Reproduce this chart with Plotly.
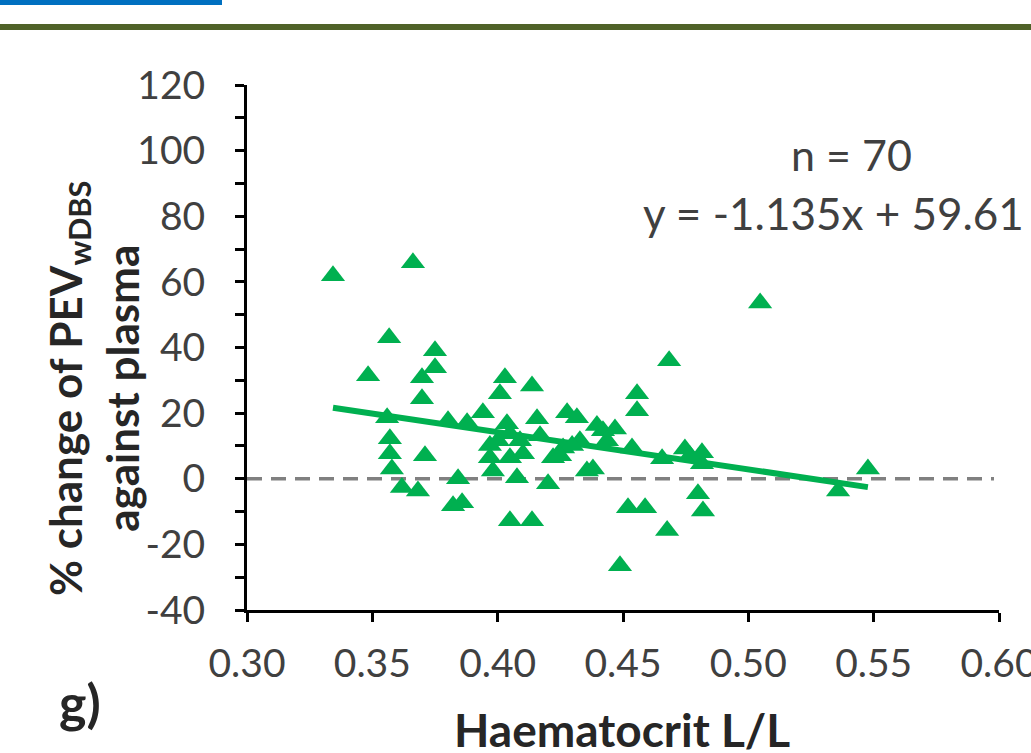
import plotly.graph_objects as go

# Haematocrit (L/L)
hct = [0.3343, 0.3662, 0.3567, 0.3483, 0.3750, 0.3750, 0.3698, 0.3698, 0.4029, 0.4009,
       0.4137, 0.3941, 0.3559, 0.3802, 0.3878, 0.4037, 0.4157, 0.4277, 0.4316, 0.4396,
       0.3570, 0.3570, 0.3578, 0.3710, 0.3618, 0.3682, 0.3842, 0.3822, 0.3858, 0.4049,
       0.4137, 0.3969, 0.3969, 0.3981, 0.4049, 0.4049, 0.4077, 0.4101, 0.4201, 0.4221,
       0.4261, 0.4356, 0.4328, 0.4380, 0.4420, 0.4468, 0.4536, 0.4656, 0.4747, 0.4815,
       0.4815, 0.4520, 0.4588, 0.4799, 0.4819, 0.4676, 0.4488, 0.5358, 0.5477, 0.5047,
       0.4684, 0.4556, 0.4556, 0.4169, 0.4001, 0.4436, 0.4297, 0.4089, 0.4767, 0.4249]
# % change of PEV_wDBS against plasma
pct_change = [61.9, 65.8, 43.0, 31.4, 39.0, 33.8, 30.8, 24.4, 30.8, 25.9,
              28.3, 20.1, 18.6, 17.7, 17.1, 16.8, 18.3, 20.1, 18.6, 16.2,
              12.2, 7.6, 3.0, 7.0, -2.7, -3.7, 0.0, -8.2, -7.3, -12.8,
              -12.8, 10.1, 6.4, 2.4, 13.7, 6.4, 0.3, 7.6, -1.5, 6.4,
              9.4, 2.4, 11.6, 3.0, 14.6, 15.2, 9.4, 6.1, 9.1, 7.9,
              4.6, -8.8, -8.8, -4.6, -9.8, -15.8, -26.5, -3.7, 3.0, 53.6,
              36.0, 25.9, 20.7, 13.1, 11.6, 11.6, 10.1, 11.6, 7.0, 7.0]

# regression: y = -1.135x + 59.61 (x in %)
slope = -1.135
intercept = 59.61
n_points = 70

x_ticks = [0.30, 0.35, 0.40, 0.45, 0.50, 0.55, 0.60]
x_ticktext = ["0.30", "0.35", "0.40", "0.45", "0.50", "0.55", "0.60"]
y_ticks = [-40, -20, 0, 20, 40, 60, 80, 100, 120]
y_ticktext = ["-40", "-20", "0", "20", "40", "60", "80", "100", "120"]

GREEN = "#00B050"
FONT = "Lato"

xmin, xmax = min(hct), max(hct)
trend_x = [xmin, xmax]
trend_y = [slope * v * 100 + intercept for v in trend_x]

fig = go.Figure()

# zero reference line
fig.add_trace(go.Scatter(x=[0.30, 0.598], y=[0, 0], mode="lines",
                         line=dict(color="#808080", width=3.5, dash="15px,9px"),
                         hoverinfo="skip", showlegend=False))

fig.add_trace(go.Scatter(x=trend_x, y=trend_y, mode="lines",
                         line=dict(color=GREEN, width=6),
                         showlegend=False))

fig.add_trace(go.Scatter(x=hct, y=pct_change, mode="markers",
                         marker=dict(symbol="triangle-up", size=21, color=GREEN),
                         showlegend=False))

axis_common = dict(showline=True, linecolor="black", linewidth=3,
                   ticks="outside", ticklen=9, tickwidth=3, tickcolor="black",
                   showgrid=False, zeroline=False, ticklabeloverflow="allow",
                   automargin=False,
                   tickfont=dict(family=FONT, size=39, color="#404040"))

fig.update_xaxes(range=[0.30, 0.60], tickvals=x_ticks, ticktext=x_ticktext,
                 ticklabelstandoff=8, **axis_common)
fig.update_yaxes(range=[-40, 120], tickvals=y_ticks, ticktext=y_ticktext,
                 minor=dict(dtick=10, tick0=0, ticks="outside", ticklen=9,
                            tickwidth=3, tickcolor="black"),
                 ticklabelstandoff=22, **axis_common)

L, R, T, B = 247, 32, 85, 143
W, H = 1031, 753
pw, ph = W - L - R, H - T - B

def px_x(p):
    return (p - L) / pw

def px_y(p):
    return (H - B - p) / ph

annotations = [
    dict(text="n = " + str(n_points), x=px_x(851), y=px_y(154), xref="paper", yref="paper",
         showarrow=False, xanchor="center", yanchor="middle",
         font=dict(family=FONT, size=43, color="#404040")),
    dict(text="y = %.3fx + %.2f" % (slope, intercept), x=px_x(641), y=px_y(213),
         xref="paper", yref="paper", showarrow=False, xanchor="left", yanchor="middle",
         font=dict(family=FONT, size=44, color="#404040")),
    dict(text="<b>Haematocrit L/L</b>", x=px_x(622), y=px_y(729), xref="paper", yref="paper",
         showarrow=False, xanchor="center", yanchor="middle",
         font=dict(family=FONT, size=46, color="#262626")),
    dict(text="<b>% change of PEV<sub>wDBS</sub><br>against plasma</b>", x=px_x(93), y=px_y(388),
         xref="paper", yref="paper", showarrow=False, xanchor="center", yanchor="middle",
         textangle=-90, font=dict(family=FONT, size=44, color="#262626")),
    dict(text="<b>g)</b>", x=px_x(80), y=px_y(702), xref="paper", yref="paper",
         showarrow=False, xanchor="center", yanchor="middle",
         font=dict(family=FONT, size=52, color="#262626")),
]

shapes = [
    dict(type="rect", xref="paper", yref="paper", x0=px_x(-5), x1=px_x(222),
         y0=px_y(-2), y1=px_y(5), fillcolor="#0070C0", line=dict(width=0), layer="above"),
    dict(type="rect", xref="paper", yref="paper", x0=px_x(-5), x1=px_x(1040),
         y0=px_y(24), y1=px_y(30), fillcolor="#4F6228", line=dict(width=0), layer="above"),
]

fig.update_layout(width=W, height=H, autosize=False,
                  margin=dict(l=L, r=R, t=T, b=B, autoexpand=False),
                  paper_bgcolor="white", plot_bgcolor="white",
                  annotations=annotations, shapes=shapes, showlegend=False)

post = """
document.documentElement.style.margin='0';
document.documentElement.style.overflow='hidden';
document.body.style.margin='0';
document.body.style.padding='0';
document.body.style.overflow='hidden';
"""

fig.write_html("out.html",
               config={"responsive": False, "displayModeBar": False},
               post_script=post)
